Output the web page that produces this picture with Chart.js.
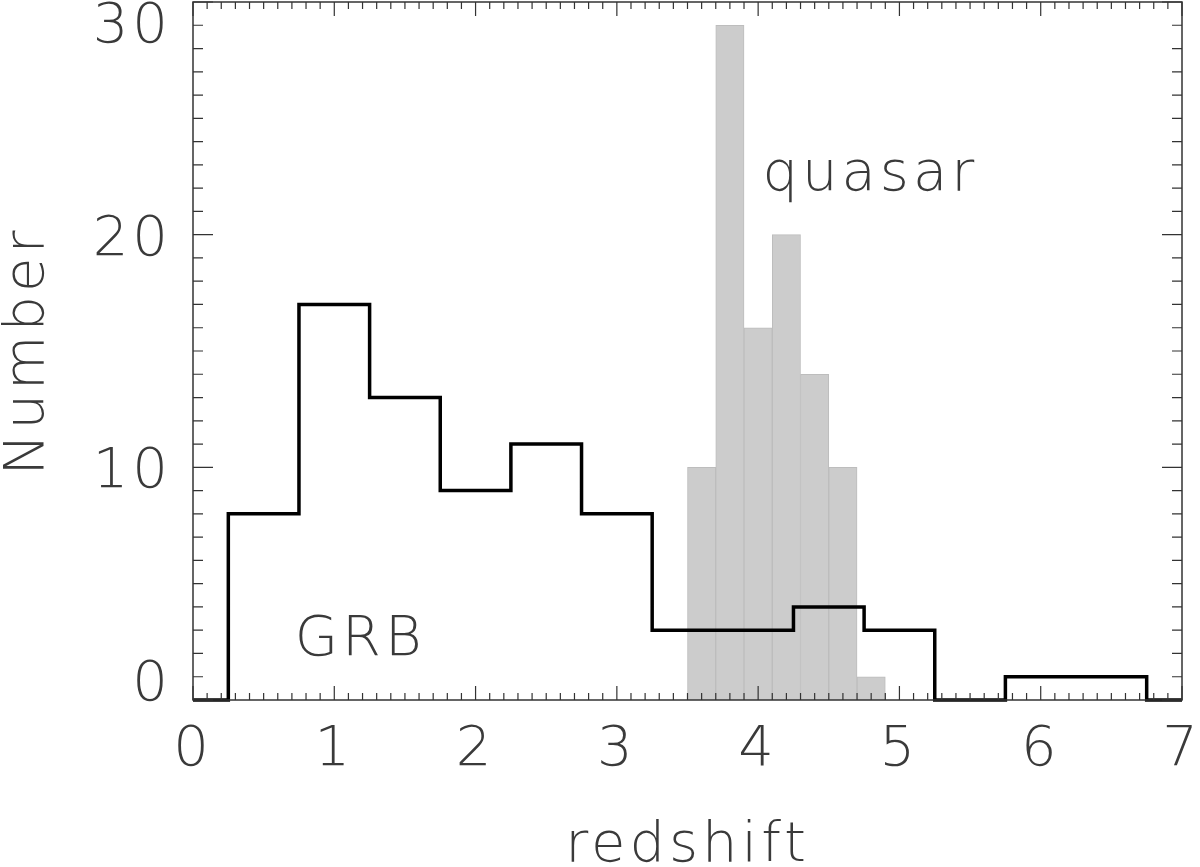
<!DOCTYPE html>
<html>
<head>
<meta charset="utf-8">
<script src="https://cdn.jsdelivr.net/npm/chart.js@4"></script>
<style>
  body { margin: 0; background: #fff; }
</style>
</head>
<body>
<canvas id="myChart" width="1200" height="867"></canvas>
<script>
// quasar histogram (grey bars), bin centres, width 0.2
const quasarZ = [3.6, 3.8, 4.0, 4.2, 4.4, 4.6, 4.8]
const quasarN = [10, 29, 16, 20, 14, 10, 1]
// GRB histogram (black step line), left edge of each bin
const grbZ = [0, 0.25, 0.75, 1.25, 1.75, 2.25, 2.75, 3.25, 3.75, 4.25, 4.75, 5.25, 5.75, 6.25, 6.75, 7]
const grbN = [0, 8, 17, 13, 9, 11, 8, 3, 3, 4, 3, 0, 1, 1, 0, 0]
const xTicks = [0, 1, 2, 3, 4, 5, 6, 7]
const yTicks = [0, 10, 20, 30]
const labels = [
  { text: 'quasar', x: 4.03, y: 21.9 },
  { text: 'GRB', x: 0.72, y: 1.93 }
]

const ink = '#3a3a3a'
const font = { family: 'DejaVu Sans', size: 56, weight: 200, lineHeight: 1 }
const fontStr = font.weight + ' ' + font.size + 'px "' + font.family + '"'
const spacing = 4
const ctx = document.getElementById('myChart')

// frame, ticks on all four sides, y tick labels, text labels
const frame = {
  id: 'frame',
  beforeDraw(chart) {
    chart.ctx.letterSpacing = spacing + 'px'
  },
  afterDatasetsDraw(chart) {
    const c = chart.ctx
    const a = chart.chartArea
    const xs = chart.scales.x
    const ys = chart.scales.y
    c.save()
    c.strokeStyle = '#333'
    c.lineWidth = 1.5
    c.strokeRect(a.left, a.top, a.right - a.left, a.bottom - a.top)
    c.lineWidth = 1.2
    c.beginPath()
    for (let i = 0; i <= 70; i++) {
      const px = xs.getPixelForValue(i / 10)
      const len = i % 10 == 0 ? 14 : 7
      c.moveTo(px, a.bottom); c.lineTo(px, a.bottom - len)
      c.moveTo(px, a.top); c.lineTo(px, a.top + len)
    }
    for (let j = 0; j <= 30; j++) {
      const py = ys.getPixelForValue(j)
      const len = j % 10 == 0 ? 20 : 10
      c.moveTo(a.left, py); c.lineTo(a.left + len, py)
      c.moveTo(a.right, py); c.lineTo(a.right - len, py)
    }
    c.stroke()
    c.fillStyle = ink
    c.font = fontStr
    c.textBaseline = 'alphabetic'
    labels.forEach(l => {
      c.fillText(l.text, xs.getPixelForValue(l.x), ys.getPixelForValue(l.y))
    })
    // y tick labels, end labels kept inside the frame like the original
    c.textAlign = 'right'
    yTicks.forEach(v => {
      let base = ys.getPixelForValue(v) + 20
      if (v == ys.max) base = a.top + 40
      if (v == ys.min) base = a.bottom
      c.fillText(String(v), a.left - 25 + spacing, base)
    })
    c.restore()
  }
}

new Chart(ctx, {
  type: 'bar',
  data: {
    datasets: [
      {
        type: 'line',
        label: 'GRB',
        data: grbZ.map((z, i) => ({ x: z, y: grbN[i] })),
        stepped: 'before',
        borderColor: '#000',
        borderWidth: 3.5,
        pointRadius: 0,
        fill: false,
        clip: 4
      },
      {
        label: 'quasar',
        data: quasarZ.map((z, i) => ({ x: z, y: quasarN[i] })),
        backgroundColor: '#cccccc',
        borderColor: '#bdbdbd',
        borderWidth: 1,
        barPercentage: 1,
        categoryPercentage: 1
      }
    ]
  },
  options: {
    responsive: false,
    animation: false,
    layout: { padding: { top: 2, right: 18, left: 0, bottom: 0 } },
    plugins: { legend: { display: false }, tooltip: { enabled: false } },
    scales: {
      x: {
        type: 'linear',
        min: 0,
        max: 7,
        offset: false,
        grid: { display: false, drawTicks: false },
        border: { display: false },
        ticks: {
          autoSkip: false,
          padding: 22,
          color: ink,
          font: font,
          maxRotation: 0
        },
        afterBuildTicks(s) { s.ticks = xTicks.map(v => ({ value: v })) },
        title: { display: true, text: 'redshift', color: ink, font: font, padding: { top: 0, bottom: -7 } },
        afterFit(s) { s.height = 167; s.paddingLeft = 0; s.paddingRight = 0 }
      },
      y: {
        min: 0,
        max: 30,
        grid: { display: false, drawTicks: false },
        border: { display: false },
        ticks: { display: false },
        afterBuildTicks(s) { s.ticks = yTicks.map(v => ({ value: v })) },
        title: { display: true, text: 'Number', color: ink, font: font, padding: 0 },
        afterFit(s) { s.width = 193; s.paddingTop = 0; s.paddingBottom = 0 }
      }
    }
  },
  plugins: [frame]
})
</script>
</body>
</html>
